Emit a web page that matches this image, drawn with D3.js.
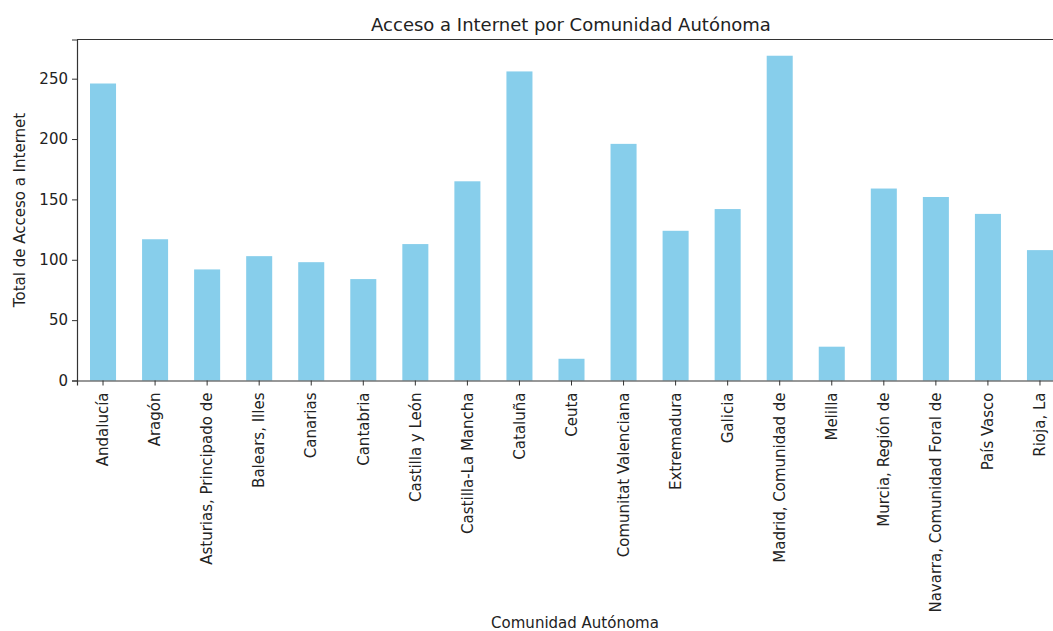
<!DOCTYPE html>
<html>
<head>
<meta charset="utf-8">
<script src="https://cdn.jsdelivr.net/npm/d3@7"></script>
<style>
  body { margin: 0; background: #fff; }
  text { font-family: "DejaVu Sans", sans-serif; fill: #222; }
</style>
</head>
<body>
<div id="chart"></div>
<script>
const comunidades = [
    "Andalucía", "Aragón", "Asturias, Principado de", "Balears, Illes", "Canarias",
    "Cantabria", "Castilla y León", "Castilla-La Mancha", "Cataluña", "Ceuta",
    "Comunitat Valenciana", "Extremadura", "Galicia", "Madrid, Comunidad de", "Melilla",
    "Murcia, Región de", "Navarra, Comunidad Foral de", "País Vasco", "Rioja, La"
];
const totalAcceso = [246, 117, 92, 103, 98, 84, 113, 165, 256, 18, 196, 124, 142, 269, 28, 159, 152, 138, 108];
const yTicks = [0, 50, 100, 150, 200, 250];

const width = 1053, height = 631;
const margin = { top: 39.5, right: -13, bottom: 250.5, left: 77 };
const plotBottom = height - margin.bottom;
const fontSize = 15;

const svg = d3.select("#chart")
    .append("svg")
    .attr("width", width)
    .attr("height", height);

const x = d3.scaleBand()
    .domain(comunidades)
    .range([margin.left, width - margin.right])
    .paddingInner(0.5)
    .paddingOuter(0.25);

const y = d3.scaleLinear()
    .domain([0, d3.max(totalAcceso) * 1.05])
    .range([plotBottom, margin.top]);

svg.append("g")
    .selectAll("rect")
    .data(comunidades)
    .join("rect")
    .attr("x", d => x(d))
    .attr("y", (d, i) => y(totalAcceso[i]))
    .attr("width", x.bandwidth())
    .attr("height", (d, i) => y(0) - y(totalAcceso[i]))
    .attr("fill", "skyblue");

// frame (top spine, right spine falls outside the picture)
svg.append("line")
    .attr("x1", margin.left).attr("x2", width - margin.right)
    .attr("y1", margin.top).attr("y2", margin.top)
    .attr("stroke", "#333").attr("stroke-width", 1.2);

const xAxis = g => g
    .attr("transform", `translate(0,${plotBottom})`)
    .call(d3.axisBottom(x).tickSize(5).tickPadding(5))
    .call(g => g.select(".domain").attr("stroke", "#333").attr("stroke-width", 1.2))
    .call(g => g.selectAll(".tick line").attr("stroke", "#333"))
    .call(g => g.selectAll(".tick text")
        .attr("font-size", fontSize)
        .attr("font-family", "DejaVu Sans, sans-serif")
        .attr("fill", "#222")
        .attr("transform", "rotate(-90)")
        .attr("text-anchor", "end")
        .attr("x", -12)
        .attr("y", 0)
        .attr("dy", "0.35em"));

const yAxis = g => g
    .attr("transform", `translate(${margin.left},0)`)
    .call(d3.axisLeft(y).tickValues(yTicks).tickSize(5).tickPadding(4))
    .call(g => g.select(".domain").attr("stroke", "#333").attr("stroke-width", 1.2))
    .call(g => g.selectAll(".tick line").attr("stroke", "#333"))
    .call(g => g.selectAll(".tick text")
        .attr("font-size", fontSize)
        .attr("font-family", "DejaVu Sans, sans-serif")
        .attr("fill", "#222"));

svg.append("g").call(xAxis);
svg.append("g").call(yAxis);

svg.append("text")
    .attr("x", 571)
    .attr("y", 31)
    .attr("text-anchor", "middle")
    .attr("font-size", 18)
    .text("Acceso a Internet por Comunidad Autónoma");

svg.append("text")
    .attr("x", 575)
    .attr("y", 628)
    .attr("text-anchor", "middle")
    .attr("font-size", fontSize)
    .text("Comunidad Autónoma");

svg.append("text")
    .attr("transform", `translate(25,${(margin.top + plotBottom) / 2}) rotate(-90)`)
    .attr("text-anchor", "middle")
    .attr("font-size", fontSize)
    .text("Total de Acceso a Internet");
</script>
</body>
</html>
